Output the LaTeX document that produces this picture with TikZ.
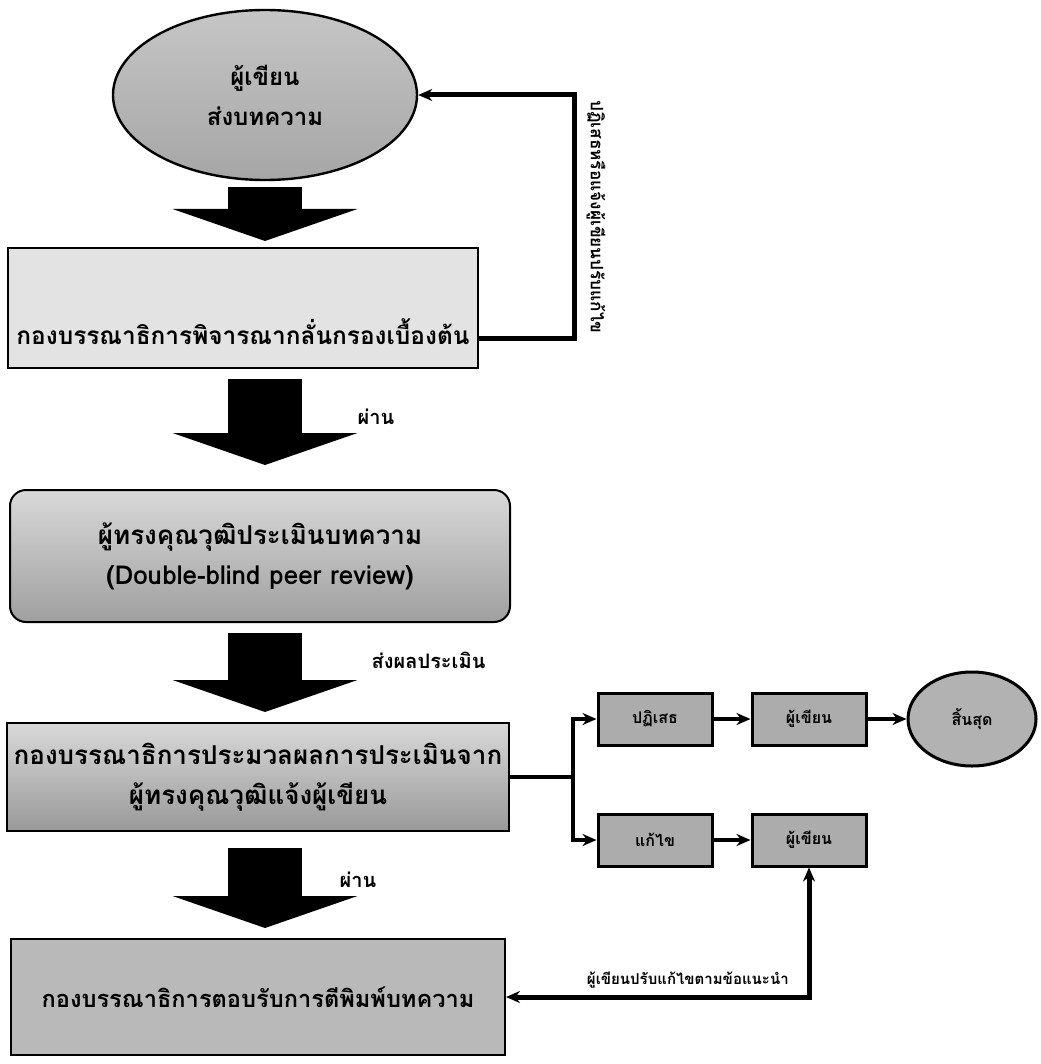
\documentclass[tikz,border=0pt]{standalone}
\usepackage{fontspec}
\setmainfont[Script=Thai]{Loma}
\usepackage{xcolor}
\usetikzlibrary{shapes.geometric,arrows.meta}

\tikzset{
  bigbox/.style={draw, line width=1pt, align=center, font=\bfseries\fontsize{13}{20}\selectfont},
  smallbox/.style={draw, line width=1.5pt, fill=gray!65, minimum width=57pt, minimum height=26pt, inner sep=1pt, font=\bfseries\fontsize{8}{10}\selectfont},
  bigarrow/.style={line width=37pt, -{Triangle[width=92pt,length=16pt]}},
  conn/.style={line width=2pt, -{Stealth[length=7pt,width=6pt]}},
  note/.style={line width=0.4pt, outer sep=0pt, font=\bfseries\fontsize{10}{11}\selectfont},
}

\begin{document}
\begin{tikzpicture}[x=0.5pt, y=-0.5pt]
      \useasboundingbox (0,0) rectangle (1040,1064);

      % Nodos principales
      \node[draw, ellipse, line width=1.2pt, top color=gray!45, bottom color=gray!70, minimum width=152pt, minimum height=85pt, align=center, font=\bfseries\fontsize{12}{20}\selectfont] (author) at (265,95) {ผู้เขียน\\ส่งบทความ};
      \node[bigbox, fill=gray!22, minimum width=235pt, inner sep=0pt, text height=48pt, text depth=12pt, font=\bfseries\fontsize{12.2}{20}\selectfont] (screen) at (243,308) {กองบรรณาธิการพิจารณากลั่นกรองเบื้องต้น};
      \node[bigbox, rounded corners=8pt, top color=gray!30, bottom color=gray!75, minimum width=250pt, minimum height=66pt] (review) at (260,556) {ผู้ทรงคุณวุฒิประเมินบทความ\\(Double-blind peer review)};
      \node[bigbox, top color=gray!30, bottom color=gray!80, minimum width=247pt, minimum height=54pt] (process) at (258,777) {กองบรรณาธิการประมวลผลการประเมินจาก\\ผู้ทรงคุณวุฒิแจ้งผู้เขียน};
      \node[bigbox, fill=gray!55, minimum width=247pt, minimum height=58pt, font=\bfseries\fontsize{11.8}{20}\selectfont] (accept) at (258,997) {กองบรรณาธิการตอบรับการตีพิมพ์บทความ};

      % Nodos de la derecha
      \node[smallbox] (reject) at (655,719) {ปฏิเสธ};
      \node[smallbox] (notifyA) at (809,719) {ผู้เขียน};
      \node[draw, ellipse, line width=1.5pt, fill=gray!60, minimum width=64pt, minimum height=47pt, font=\bfseries\fontsize{8}{10}\selectfont] (finish) at (972,719) {สิ้นสุด};
      \node[smallbox] (revise) at (655,840) {แก้ไข};
      \node[smallbox] (notifyB) at (809,840) {ผู้เขียน};

      % Flechas del flujo principal
      \draw[bigarrow, shorten <=3pt, shorten >=3pt] (author.south) -- (author.south |- screen.north);
      \draw[bigarrow, shorten <=5pt, shorten >=12pt] (author.south |- screen.south) -- node[note, pos=0.4, anchor=west, xshift=43pt] {ผ่าน} (author.south |- review.north);
      \draw[bigarrow, shorten <=5pt, shorten >=5pt] (author.south |- review.south) -- node[note, pos=0.38, anchor=west, xshift=50pt] {ส่งผลประเมิน} (author.south |- process.north);
      \draw[bigarrow, shorten <=8pt, shorten >=5pt] (author.south |- process.south) -- node[note, pos=0.45, anchor=west, xshift=34pt] {ผ่าน} (author.south |- accept.north);

      % Flujo de retorno
      \draw[conn, line width=2.5pt] (screen.mid east) -- ++(95,0) |- node[pos=0.25, anchor=south, rotate=-90, outer sep=0pt, yshift=3pt, font=\bfseries\fontsize{8.6}{10}\selectfont] {ปฏิเสธหรือแจ้งผู้เขียนปรับแก้ไข} (author.east);

      % Resultado de la evaluacion
      \draw[line width=2pt] (process.east) -- ++(63,0) coordinate (split);
      \draw[conn] (split) |- (reject);
      \draw[conn] (split) |- (revise);
      \draw[conn] (reject) -- (notifyA);
      \draw[conn] (notifyA) -- (finish);
      \draw[conn] (revise) -- (notifyB);
      \draw[conn, {Stealth[length=7pt,width=6pt]}-{Stealth[length=7pt,width=6pt]}, line width=2.5pt] (accept.east) -| node[pos=0.3, above, font=\bfseries\fontsize{7.5}{9}\selectfont] {ผู้เขียนปรับแก้ไขตามข้อแนะนำ} (notifyB.south);
    \end{tikzpicture}
\end{document}
